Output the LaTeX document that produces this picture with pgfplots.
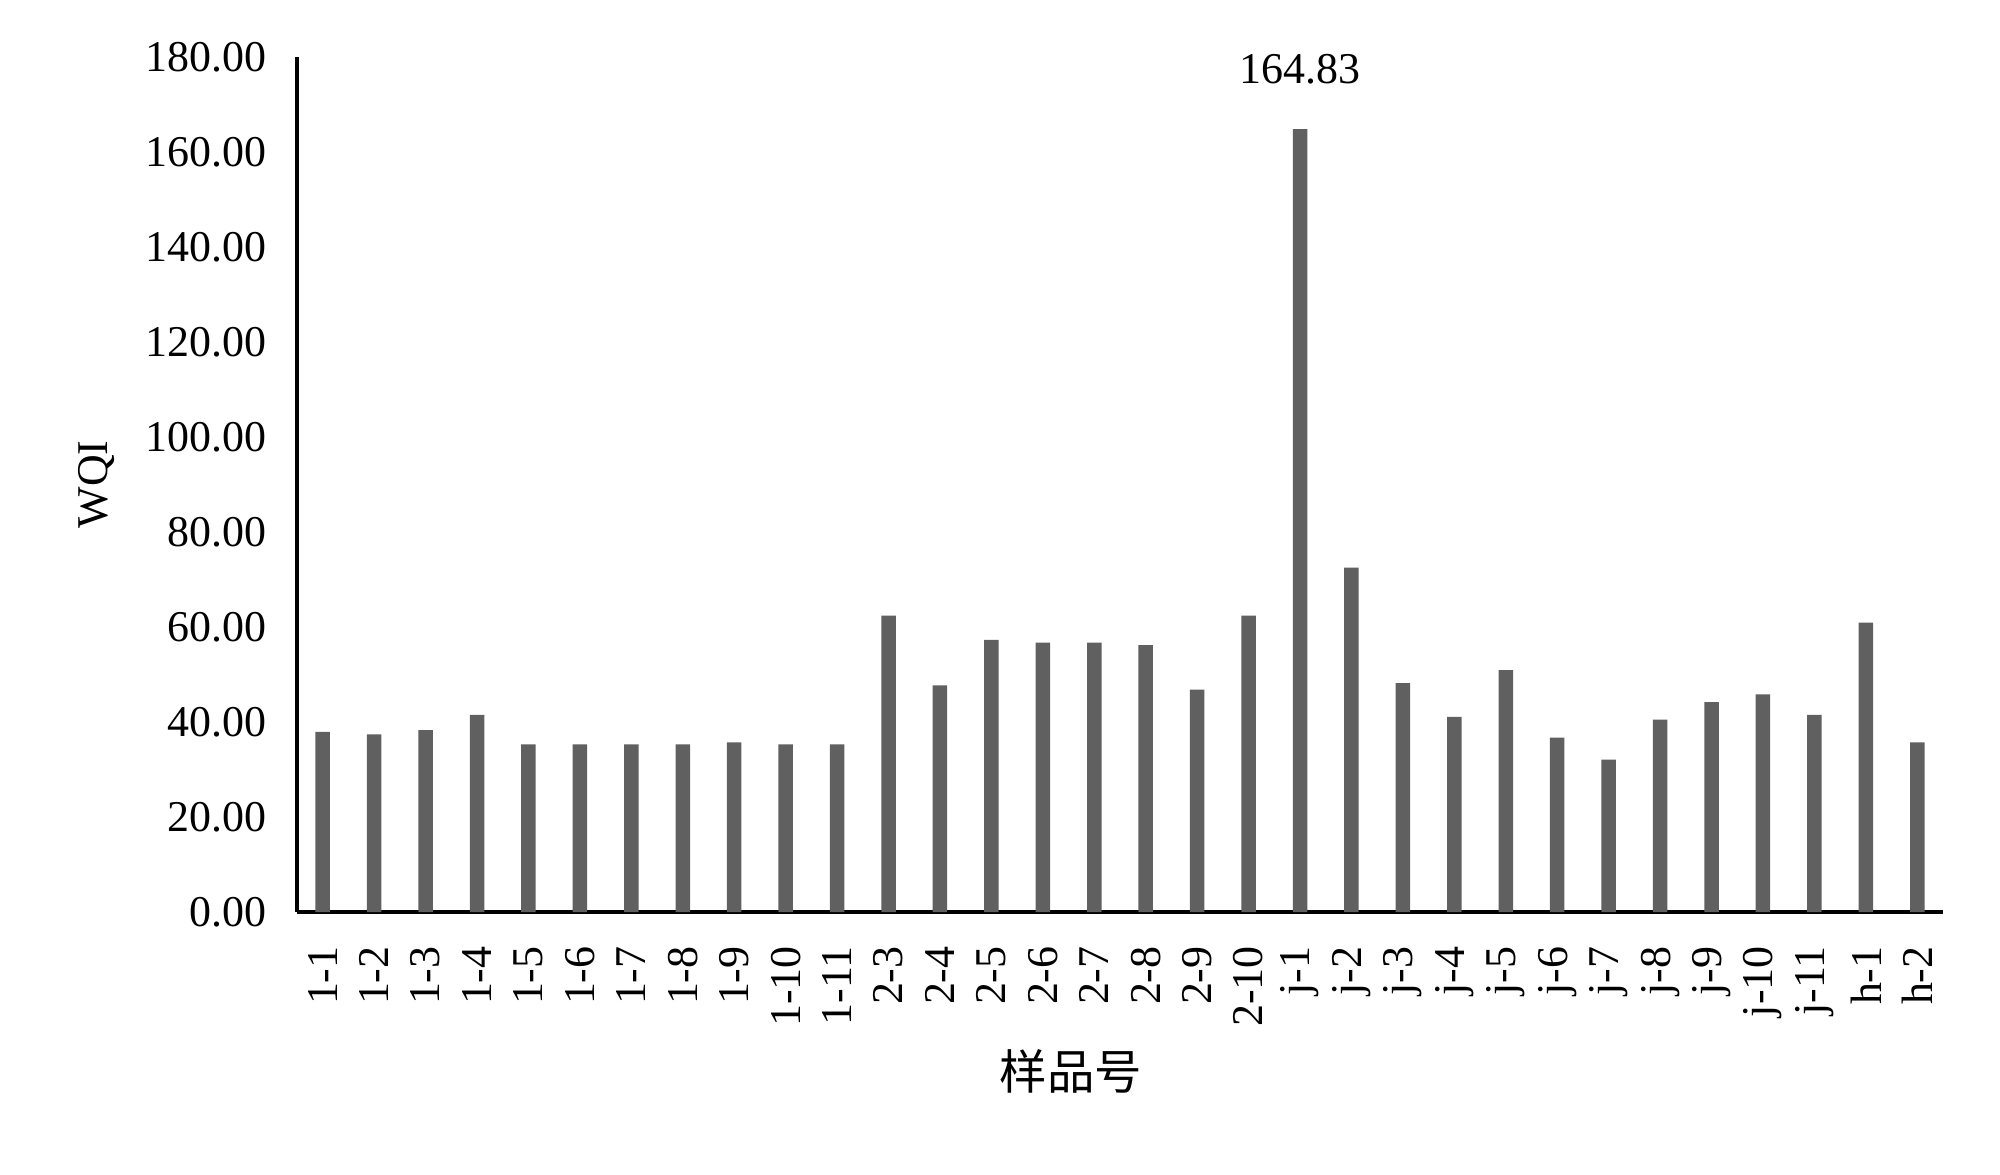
\documentclass[border=0pt]{standalone}
\usepackage{fontspec}
\setmainfont{Liberation Serif}
\newfontfamily\cjk{Noto Sans CJK SC}
\usepackage{pgfplots}
\pgfplotsset{compat=1.18}
\usepackage{pgfplotstable}
\definecolor{bargrey}{HTML}{606060}

\pgfplotstableread{
x  wqi
0  37.9
1  37.4
2  38.3
3  41.5
4  35.3
5  35.3
6  35.3
7  35.3
8  35.7
9  35.3
10 35.3
11 62.4
12 47.7
13 57.3
14 56.7
15 56.7
16 56.2
17 46.8
18 62.4
19 164.83
20 72.5
21 48.2
22 41.1
23 50.9
24 36.7
25 32.1
26 40.5
27 44.2
28 45.8
29 41.5
30 60.9
31 35.7
}\wqidata

\begin{document}
\begin{tikzpicture}
\begin{axis}[
  scale only axis,
  width=16.46cm, height=8.55cm,
  xmin=-0.5, xmax=31.5,
  ymin=0, ymax=180,
  ytick={0,20,...,180},
  xtick={0,...,31},
  xticklabels={1-1,1-2,1-3,1-4,1-5,1-6,1-7,1-8,1-9,1-10,1-11,2-3,2-4,2-5,2-6,2-7,2-8,2-9,2-10,j-1,j-2,j-3,j-4,j-5,j-6,j-7,j-8,j-9,j-10,j-11,h-1,h-2},
  xticklabel style={yshift=-0.22cm, rotate=90, anchor=east},
  axis x line*=bottom, axis y line*=left,
  axis line style={line width=1.3pt, black},
  major tick length=0pt,
  font=\fontsize{12.5}{15}\selectfont,
  yticklabel style={xshift=-0.18cm, /pgf/number format/.cd, fixed, fixed zerofill, precision=2, assume math mode=true},
  ylabel={WQI},
  ylabel style={at={(axis description cs:-0.1215,0.5)}, anchor=center},
  xlabel={{\cjk 样品号}},
  xlabel style={at={(axis description cs:0.4702,-0.186)}, anchor=center, font=\fontsize{13.5}{16}\selectfont},
  ybar, bar width=0.145cm, bar shift=0pt,
  clip=false,
]
\addplot[fill=bargrey, draw=none] table[x=x, y=wqi] {\wqidata};
\addplot[draw=none, fill=none, nodes near coords,
  every node near coord/.append style={font=\fontsize{12.5}{15}\selectfont, yshift=0.33cm},
  point meta=explicit symbolic]
  coordinates {(19,164.83) [164.83]};
\coordinate (o) at (rel axis cs:0,0);
\end{axis}
\pgfresetboundingbox
\path[use as bounding box] (o) ++(-2.97cm,-2.62cm) rectangle ++(20cm,11.74cm);
\end{tikzpicture}
\end{document}
